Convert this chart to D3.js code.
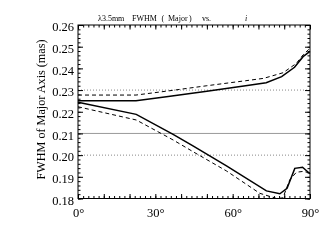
<!DOCTYPE html>
<html><head><meta charset="utf-8">
<script src="https://cdn.jsdelivr.net/npm/d3@7"></script>
<style>
html,body{margin:0;padding:0;background:#fff;}
svg{will-change:transform;}
text{font-family:"Liberation Serif","Times New Roman","DejaVu Serif",serif;fill:#000;}
</style></head>
<body><div id="chart"></div>
<script>
// ---- data ----
const xTickLabels = [0, 30, 60, 90];
const yTickLabels = [0.18, 0.19, 0.20, 0.21, 0.22, 0.23, 0.24, 0.25, 0.26];
const dottedGrid = [0.23, 0.20];
const solidGrid = [0.21];

const upperSolidDeg = [0, 22.5, 35, 50, 65, 73, 79, 84, 87.3, 90];
const upperSolidVal = [0.2251, 0.2251, 0.2270, 0.2295, 0.2320, 0.2334, 0.2362, 0.2405, 0.2454, 0.2478];
const upperDashDeg = [0, 22.5, 35, 50, 65, 72, 79.6, 84.7, 87.3, 90];
const upperDashVal = [0.2277, 0.2277, 0.2296, 0.2320, 0.2343, 0.2354, 0.2380, 0.2423, 0.2462, 0.2493];
const lowerSolidDeg = [0, 22.6, 36.9, 44.6, 57.6, 73.1, 78.3, 81.1, 84.1, 87.1, 90];
const lowerSolidVal = [0.2244, 0.2188, 0.2096, 0.2043, 0.1950, 0.1835, 0.1822, 0.1847, 0.1939, 0.1944, 0.1914];
const lowerDashDeg = [0, 22.6, 36.9, 44.6, 57.6, 70.5, 77, 79.5, 82.1, 84.7, 87.3, 90];
const lowerDashVal = [0.2223, 0.2162, 0.2070, 0.2016, 0.1927, 0.1824, 0.1800, 0.1803, 0.1885, 0.1921, 0.1925, 0.1918];

// ---- layout ----
const W = 332, H = 249;
const L = 78, R = 310, T = 25, B = 198.5;
const SERIF = '"Liberation Serif","Times New Roman",serif';

const svg = d3.select("#chart").append("svg")
  .attr("width", W).attr("height", H)
  .attr("font-family", SERIF)
  .style("display", "block").style("background", "#fff");

const x = d3.scaleLinear().domain([0, 90]).range([L, R]);
const y = d3.scaleLinear().domain([0.18, 0.26]).range([B, T]);

// gridlines
svg.selectAll(".gd").data(dottedGrid).enter().append("line")
  .attr("x1", L).attr("x2", R).attr("y1", d => y(d)).attr("y2", d => y(d))
  .attr("stroke", "#888").attr("stroke-width", 1).attr("stroke-dasharray", "1,2");
svg.selectAll(".gs").data(solidGrid).enter().append("line")
  .attr("x1", L).attr("x2", R).attr("y1", d => y(d)).attr("y2", d => y(d))
  .attr("stroke", "#999").attr("stroke-width", 1);

// ticks
const xMinor = d3.range(0, 90.01, 2);
const xMajor = d3.range(0, 90.01, 10);
const yMinor = d3.range(0, 41).map(i => 0.18 + i * 0.002);
const yMajor = yTickLabels;

function styleAxis(g){
  g.attr("font-family", SERIF);
  g.select(".domain").remove();
  g.selectAll("line").attr("stroke", "#000").attr("stroke-width", 1);
}

// bottom
svg.append("g").attr("transform", `translate(0,${B})`)
  .call(d3.axisBottom(x).tickValues(xMinor).tickSize(-2.5).tickFormat("")).call(styleAxis);
svg.append("g").attr("transform", `translate(0,${B})`)
  .call(d3.axisBottom(x).tickValues(xMajor).tickSize(-4.5).tickFormat("")).call(styleAxis);
const xl = svg.append("g").attr("transform", `translate(0,${B})`)
  .call(d3.axisBottom(x).tickValues(xTickLabels).tickSize(0).tickPadding(9.5).tickFormat(d => d + "°"));
styleAxis(xl);
xl.selectAll("text").attr("font-size", 12.5).attr("font-family", SERIF);

// top
svg.append("g").attr("transform", `translate(0,${T})`)
  .call(d3.axisTop(x).tickValues(xMinor).tickSize(-2.5).tickFormat("")).call(styleAxis);
svg.append("g").attr("transform", `translate(0,${T})`)
  .call(d3.axisTop(x).tickValues(xMajor).tickSize(-4.5).tickFormat("")).call(styleAxis);

// left
svg.append("g").attr("transform", `translate(${L},0)`)
  .call(d3.axisLeft(y).tickValues(yMinor).tickSize(-2.5).tickFormat("")).call(styleAxis);
const yl = svg.append("g").attr("transform", `translate(${L},0)`)
  .call(d3.axisLeft(y).tickValues(yMajor).tickSize(-5).tickPadding(4).tickFormat(d3.format(".2f")));
styleAxis(yl);
yl.selectAll("text").attr("font-size", 12.5).attr("font-family", SERIF).attr("dy", "0.45em");

// right
svg.append("g").attr("transform", `translate(${R},0)`)
  .call(d3.axisRight(y).tickValues(yMinor).tickSize(-2.5).tickFormat("")).call(styleAxis);
svg.append("g").attr("transform", `translate(${R},0)`)
  .call(d3.axisRight(y).tickValues(yMajor).tickSize(-5).tickFormat("")).call(styleAxis);

// frame
svg.append("rect").attr("x", L).attr("y", T).attr("width", R - L).attr("height", B - T)
  .attr("fill", "none").attr("stroke", "#000").attr("stroke-width", 1);

// curves
const line = d3.line().x(d => x(d[0])).y(d => y(d[1]));
const series = [
  {deg: upperSolidDeg, val: upperSolidVal, dash: null, w: 1.5},
  {deg: upperDashDeg, val: upperDashVal, dash: "4,3", w: 1},
  {deg: lowerSolidDeg, val: lowerSolidVal, dash: null, w: 1.5},
  {deg: lowerDashDeg, val: lowerDashVal, dash: "4,3", w: 1}
];
series.forEach(s => {
  svg.append("path").datum(s.deg.map((d, i) => [d, s.val[i]]))
    .attr("d", line).attr("fill", "none").attr("stroke", "#000")
    .attr("stroke-width", s.w).attr("stroke-dasharray", s.dash);
});

// title
const title = svg.append("text").attr("y", 20.5).attr("font-size", 8).attr("fill", "#000");
title.append("tspan").attr("x", 98).text("λ3.5mm");
title.append("tspan").attr("x", 132).text("FWHM");
title.append("tspan").attr("x", 161.5).text("(");
title.append("tspan").attr("x", 168).text("Major");
title.append("tspan").attr("x", 189).text(")");
title.append("tspan").attr("x", 202).text("vs.");
title.append("tspan").attr("x", 245).attr("font-style", "italic").text("i");

// y-axis title
svg.append("text").attr("transform", "translate(44.5,109.5) rotate(-90)")
  .attr("text-anchor", "middle").attr("font-size", 12.2)
  .text("FWHM of Major Axis (mas)");
</script></body></html>
